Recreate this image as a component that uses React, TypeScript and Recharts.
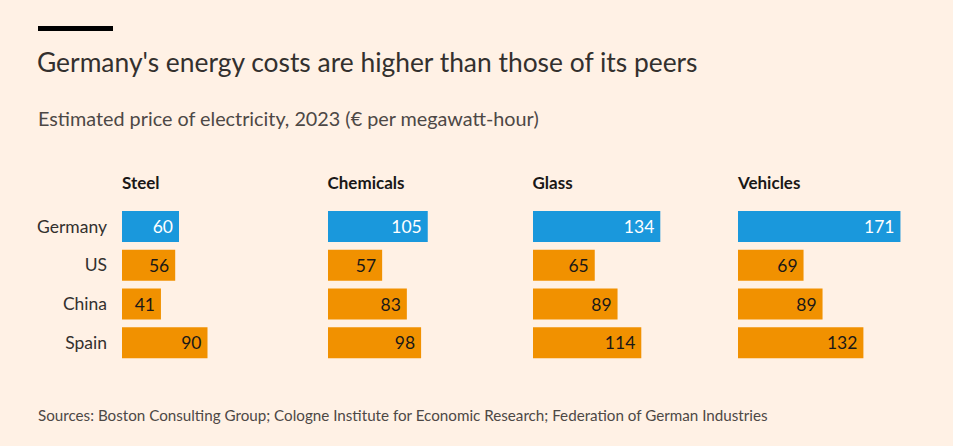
import { BarChart, Bar, XAxis, YAxis, Cell, LabelList } from "recharts";

const countries = ["Germany", "US", "China", "Spain"];
const sectors = ["Steel", "Chemicals", "Glass", "Vehicles"];
const steel = [60, 56, 41, 90];
const chemicals = [105, 57, 83, 98];
const glass = [134, 65, 89, 114];
const vehicles = [171, 69, 89, 132];
const sectorValues = [steel, chemicals, glass, vehicles];

const BG = "#fff1e5";
const BLUE = "#1a98dc";
const ORANGE = "#f19100";
const FONT = "Lato, 'Noto Sans', sans-serif";

const panelLeft = [122, 327.5, 532.5, 738];
const plotWidth = 190;
const plotTop = 206.5;
const plotHeight = 155;

const renderValue = (props: any) => {
	const { x, y, width, height, value, index } = props;
	return (
		<text
			x={x + width - 6}
			y={y + height / 2}
			textAnchor="end"
			dominantBaseline="central"
			fontSize={17.5}
			fontFamily={FONT}
			fill={index === 0 ? "#ffffff" : "#1a1817"}
		>
			{value}
		</text>
	);
};

const Panel = ({ idx }: { idx: number }) => {
	const data = countries.map((c, i) => ({ country: c, value: sectorValues[idx][i] }));
	const withAxis = idx === 0;
	const axisW = withAxis ? panelLeft[0] : 0;
	return (
		<div
			style={{
				position: "absolute",
				left: withAxis ? 0 : panelLeft[idx],
				top: plotTop,
			}}
		>
			<BarChart
				layout="vertical"
				width={plotWidth + axisW}
				height={plotHeight}
				data={data}
				margin={{ top: 0, right: 0, bottom: 0, left: 0 }}
			>
				<XAxis type="number" domain={[0, 200]} hide />
				<YAxis
					type="category"
					dataKey="country"
					hide={!withAxis}
					width={axisW}
					axisLine={false}
					tickLine={false}
					tickSize={0}
					tickMargin={15}
					tick={{ fill: "#33302e", fontSize: 17.5, fontFamily: FONT }}
				/>
				<Bar dataKey="value" barSize={31} isAnimationActive={false}>
					{data.map((d, i) => (
						<Cell key={d.country} fill={i === 0 ? BLUE : ORANGE} />
					))}
					<LabelList dataKey="value" content={renderValue} />
				</Bar>
			</BarChart>
		</div>
	);
};

export default function App() {
	return (
		<div
			style={{
				position: "fixed",
				left: 0,
				top: 0,
				width: 953,
				height: 446,
				background: BG,
				fontFamily: FONT,
				overflow: "hidden",
			}}
		>
			<div style={{ position: "absolute", left: 38, top: 26, width: 75, height: 5, background: "#000" }} />
			<div style={{ position: "absolute", left: 37, top: 45, fontSize: 26.4, color: "#33302e", lineHeight: "34px" }}>
				Germany's energy costs are higher than those of its peers
			</div>
			<div style={{ position: "absolute", left: 38, top: 105, fontSize: 19.8, color: "#4d4845", lineHeight: "26px" }}>
				Estimated price of electricity, 2023 (€ per megawatt-hour)
			</div>
			{sectors.map((s, i) => (
				<div
					key={s}
					style={{
						position: "absolute",
						left: panelLeft[i],
						top: 171,
						fontSize: 17,
						fontWeight: 700,
						color: "#1a1817",
						lineHeight: "24px",
					}}
				>
					{s}
				</div>
			))}
			{sectors.map((s, i) => (
				<Panel key={s} idx={i} />
			))}
			<div style={{ position: "absolute", left: 38, top: 404, fontSize: 15.2, color: "#4d4845", lineHeight: "22px" }}>
				Sources: Boston Consulting Group; Cologne Institute for Economic Research; Federation of German Industries
			</div>
		</div>
	);
}
